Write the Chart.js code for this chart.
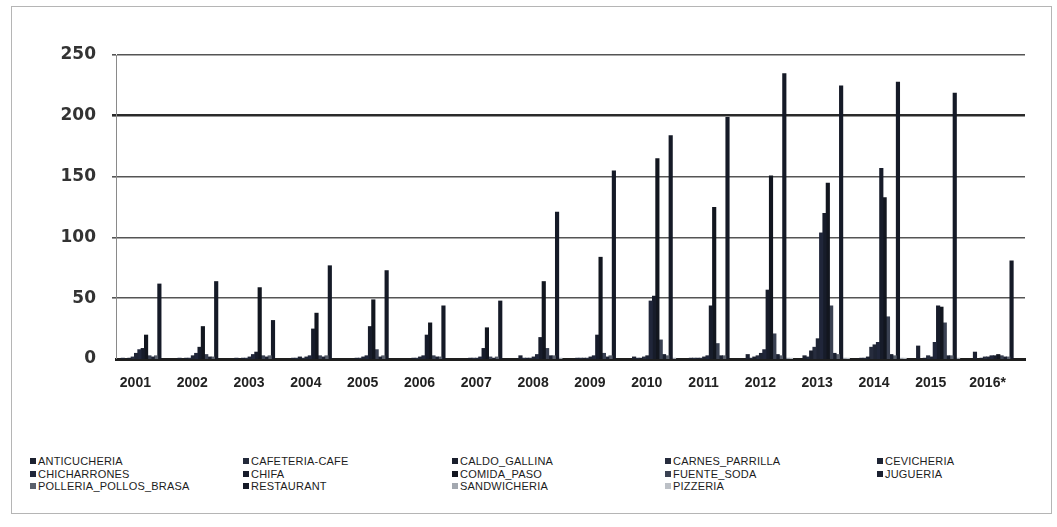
<!DOCTYPE html>
<html><head><meta charset="utf-8">
<script src="https://cdn.jsdelivr.net/npm/chart.js@4.4.0/dist/chart.umd.min.js"></script>
<style>
html,body{margin:0;padding:0;background:#fff;}
#wrap{position:relative;width:1057px;height:527px;overflow:hidden;background:#fff;}
#frame{position:absolute;left:11px;top:6px;width:1041px;height:508px;border:1px solid #b5b5b5;box-sizing:border-box;}
#c{position:absolute;left:0;top:0;}
#legend{position:absolute;left:30px;top:455px;display:grid;grid-template-columns:213px 209px 213px 212px 150px;font-family:"Liberation Sans Narrow","Liberation Sans",Arial,sans-serif;font-size:11px;color:#1c1c1c;}
.li{display:flex;align-items:center;height:12.6px;white-space:nowrap;letter-spacing:0.2px;}
.sw{width:6px;height:6px;margin-right:2px;display:inline-block;}
</style></head>
<body><div id="wrap"><div id="frame"></div><canvas id="c" width="1057" height="400"></canvas><div id="legend"></div></div>
<script>
const years = ["2001","2002","2003","2004","2005","2006","2007","2008","2009","2010","2011","2012","2013","2014","2015","2016*"];
const yTicks = [0, 50, 100, 150, 200, 250];

const ANTICUCHERIA          = [1,1,1,1,0,0,0,3,1,2,1,4,3,1,11,6];
const CAFETERIA_CAFE        = [0,0,0,1,0,0,0,1,1,1,1,1,2,1,0,0];
const CALDO_GALLINA         = [1,1,1,2,1,1,1,1,1,1,1,2,7,2,1,1];
const CARNES_PARRILLA       = [2,1,1,1,1,1,1,1,1,2,1,3,10,10,3,2];
const CEVICHERIA            = [5,3,2,2,2,2,1,2,2,3,2,5,17,12,2,2];
const CHICHARRONES          = [8,5,4,3,3,3,2,4,3,48,3,8,104,14,14,3];
const CHIFA                 = [9,10,6,25,27,20,9,18,20,52,44,57,120,157,44,3];
const COMIDA_PASO           = [20,27,59,38,49,30,26,64,84,165,125,151,145,133,43,4];
const FUENTE_SODA           = [3,4,3,3,8,3,2,9,5,16,13,21,44,35,30,3];
const JUGUERIA              = [2,2,2,2,2,2,1,3,2,4,3,4,5,4,3,2];
const POLLERIA_POLLOS_BRASA = [3,2,3,3,3,2,2,3,3,3,3,3,4,3,3,2];
const RESTAURANT            = [62,64,32,77,73,44,48,121,155,184,199,235,225,228,219,81];
const SANDWICHERIA          = [0,0,0,0,0,0,0,1,0,1,0,1,1,1,1,0];
const PIZZERIA              = [0,0,0,0,0,0,0,0,0,0,0,1,1,1,0,0];

const seriesNames = ["ANTICUCHERIA","CAFETERIA-CAFE","CALDO_GALLINA","CARNES_PARRILLA","CEVICHERIA",
  "CHICHARRONES","CHIFA","COMIDA_PASO","FUENTE_SODA","JUGUERIA",
  "POLLERIA_POLLOS_BRASA","RESTAURANT","SANDWICHERIA","PIZZERIA"];
const seriesValues = [ANTICUCHERIA,CAFETERIA_CAFE,CALDO_GALLINA,CARNES_PARRILLA,CEVICHERIA,
  CHICHARRONES,CHIFA,COMIDA_PASO,FUENTE_SODA,JUGUERIA,POLLERIA_POLLOS_BRASA,RESTAURANT,SANDWICHERIA,PIZZERIA];
const seriesColors = ["#1c2130","#232a3b","#1a1f2d","#262c3d","#1e2434",
  "#20263a","#171c2a","#12161f","#3a4152","#1b2131",
  "#5a606c","#151a27","#a3a8b0","#bcc0c6"];

const datasets = seriesNames.map((n,i)=>({
  label:n, data:seriesValues[i], backgroundColor:seriesColors[i],
  borderWidth:0, barPercentage:1.25, categoryPercentage:0.82
}));

new Chart(document.getElementById('c'),{
  type:'bar',
  data:{labels:years, datasets},
  options:{
    responsive:false, animation:false,
    layout:{padding:{left:0,right:32,top:55,bottom:0}},
    plugins:{legend:{display:false},tooltip:{enabled:false}},
    scales:{
      x:{
        grid:{display:false,drawTicks:false},
        border:{display:true,color:'#1e1e1e',width:3},
        ticks:{color:'#222',font:{family:'"Liberation Sans", Arial, sans-serif',size:14,weight:'bold'},padding:16,labelOffset:-9,maxRotation:0,autoSkip:false},
        afterFit:(s)=>{s.height=41;}
      },
      y:{
        min:0,max:250,
        afterBuildTicks:(s)=>{s.ticks=yTicks.map(v=>({value:v}));},
        grid:{color:(ctx)=>ctx.tick&&ctx.tick.value===200?'#2a2a2a':'#555',
              lineWidth:(ctx)=>ctx.tick&&ctx.tick.value===200?2.6:(ctx.tick&&ctx.tick.value===0?0:1.6),
              tickLength:4,drawTicks:true},
        border:{display:true,color:'#8a8a8a',width:1},
        ticks:{color:'#333',font:{family:'"DejaVu Sans", sans-serif',size:17,weight:'bold'},padding:16},
        afterFit:(s)=>{s.width=116;}
      }
    }
  }
});

const lg=document.getElementById('legend');
seriesNames.forEach((n,i)=>{
  const d=document.createElement('div');d.className='li';
  const sw=document.createElement('span');sw.className='sw';sw.style.background=seriesColors[i];
  d.appendChild(sw);d.appendChild(document.createTextNode(n));lg.appendChild(d);
});
</script>
</body></html>
